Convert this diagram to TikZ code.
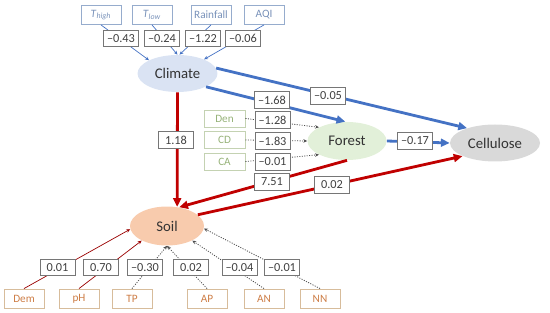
\documentclass[tikz,border=0pt]{standalone}
\usepackage{fontspec}
\setmainfont{Carlito}
\usetikzlibrary{shapes.geometric,arrows.meta}
\definecolor{climfill}{RGB}{218,227,243}
\definecolor{forfill}{RGB}{226,240,217}
\definecolor{cellfill}{RGB}{217,217,217}
\definecolor{soilfill}{RGB}{248,203,173}
\definecolor{bline}{RGB}{68,114,196}
\definecolor{rline}{RGB}{192,0,0}
\definecolor{valgray}{RGB}{118,118,118}
\definecolor{cbox}{RGB}{150,172,205}
\definecolor{ctext}{RGB}{120,145,185}
\definecolor{fbox}{RGB}{196,210,178}
\definecolor{ftext}{RGB}{150,178,120}
\definecolor{sbox}{RGB}{215,188,155}
\definecolor{stext}{RGB}{205,125,70}
\begin{document}
\begin{tikzpicture}[x=0.02cm, y=-0.02cm,
  lat/.style={ellipse, inner sep=0pt, text=black!80, font=\fontsize{8.4}{9}\selectfont},
  val/.style={draw=valgray, fill=white, line width=0.5pt, minimum width=0.7cm,
    minimum height=0.33cm, inner sep=0pt, text=black!75, font=\fontsize{7}{8}\selectfont},
  obs/.style={draw, line width=0.5pt, minimum width=0.8cm, minimum height=0.38cm,
    inner sep=0pt, font=\fontsize{6.4}{7}\selectfont},
  cobs/.style={obs, draw=cbox, text=ctext},
  fobs/.style={obs, draw=fbox, text=ftext, minimum width=0.82cm, minimum height=0.34cm},
  sobs/.style={obs, draw=sbox, text=stext},
  bpath/.style={line width=1.6pt, draw=bline, -{Triangle[length=5pt,width=4.5pt]}},
  rpath/.style={line width=1.6pt, draw=rline, -{Triangle[length=5pt,width=4.5pt]}},
  bthin/.style={line width=0.4pt, draw=bline, -{Stealth[length=2.2pt,width=2pt]}},
  rthin/.style={line width=0.4pt, draw=rline!80!black, -{Stealth[length=2.2pt,width=2pt]}},
  dots/.style={line width=0.45pt, draw=black!70, dash pattern=on 0.6pt off 0.8pt,
    -{Stealth[length=2.2pt,width=2pt]}}]
  \useasboundingbox (0,0) rectangle (550,313);
  % latent variables
  \node[lat, fill=climfill, minimum width=1.6cm, minimum height=0.74cm] (clim) at (177.5,73.5) {Climate};
  \node[lat, fill=forfill, minimum width=1.58cm, minimum height=0.76cm] (for) at (347,141) {Forest};
  \node[lat, fill=cellfill, minimum width=1.8cm, minimum height=0.74cm] (cell) at (495,143) {Cellulose};
  \node[lat, fill=soilfill, minimum width=1.48cm, minimum height=0.78cm] (soil) at (167,226) {Soil};
  % observed variables
  \node[cobs] (th) at (101,15) {\textit{T}\textsubscript{\textit{high}}};
  \node[cobs] (tl) at (152,15) {\textit{T}\textsubscript{\textit{low}}};
  \node[cobs] (rain) at (211,15) {Rainfall};
  \node[cobs] (aqi) at (264,15) {AQI};
  \foreach \n/\y in {Den/118.5,CD/140,CA/161.5} \node[fobs] (\n) at (224.5,\y) {\n};
  \foreach \n/\x in {Dem/24,pH/79,TP/132,AP/207,AN/264,NN/320} \node[sobs] (\n) at (\x,298.5) {\n};
  % indicator paths
  \foreach \n/\a in {th/155,tl/90,rain/84,aqi/28} \draw[bthin] (\n.south) -- (clim.\a);
  \foreach \n/\a in {Den/154,CD/180,CA/206} \draw[dots] (\n.east) -- (for.\a);
  \foreach \n/\a in {Dem/185,pH/210} \draw[rthin] (\n.north) -- (soil.\a);
  \foreach \n/\a in {TP/270,AP/270,AN/-30,NN/-4} \draw[dots] (\n.north) -- (soil.\a);
  % structural paths
  \draw[bpath] (clim.8) -- (cell.152);
  \draw[bpath] (clim.-25) -- (for.95);
  \draw[bpath] (for.east) -- (cell.west);
  \draw[rpath] (clim.south) -- (soil.62);
  \draw[rpath] (for.south) -- (soil.57);
  \draw[rpath] (soil.20) -- (cell.202);
  % coefficients
  \foreach \v/\x [count=\i] in {–0.43/121,–0.24/162,–1.22/203,–0.06/243} \node[val] (c\i) at (\x,38.5) {\v};
  \foreach \v/\y [count=\i] in {–1.28/120,–1.83/141,–0.01/162} \node[val] (f\i) at (272.5,\y) {\v};
  \foreach \v/\x [count=\i] in {0.01/57.5,0.70/101,–0.30/145,0.02/191,–0.04/239.5,–0.01/282}
    \node[val] (s\i) at (\x,267.5) {\v};
  \node[val] (k1) at (328,96) {–0.05};
  \node[val] (k2) at (272,100) {–1.68};
  \node[val] (k3) at (415,141) {–0.17};
  \node[val] (k4) at (176,140) {1.18};
  \node[val] (k5) at (272,182) {7.51};
  \node[val] (k6) at (332,185) {0.02};
\end{tikzpicture}
\end{document}
